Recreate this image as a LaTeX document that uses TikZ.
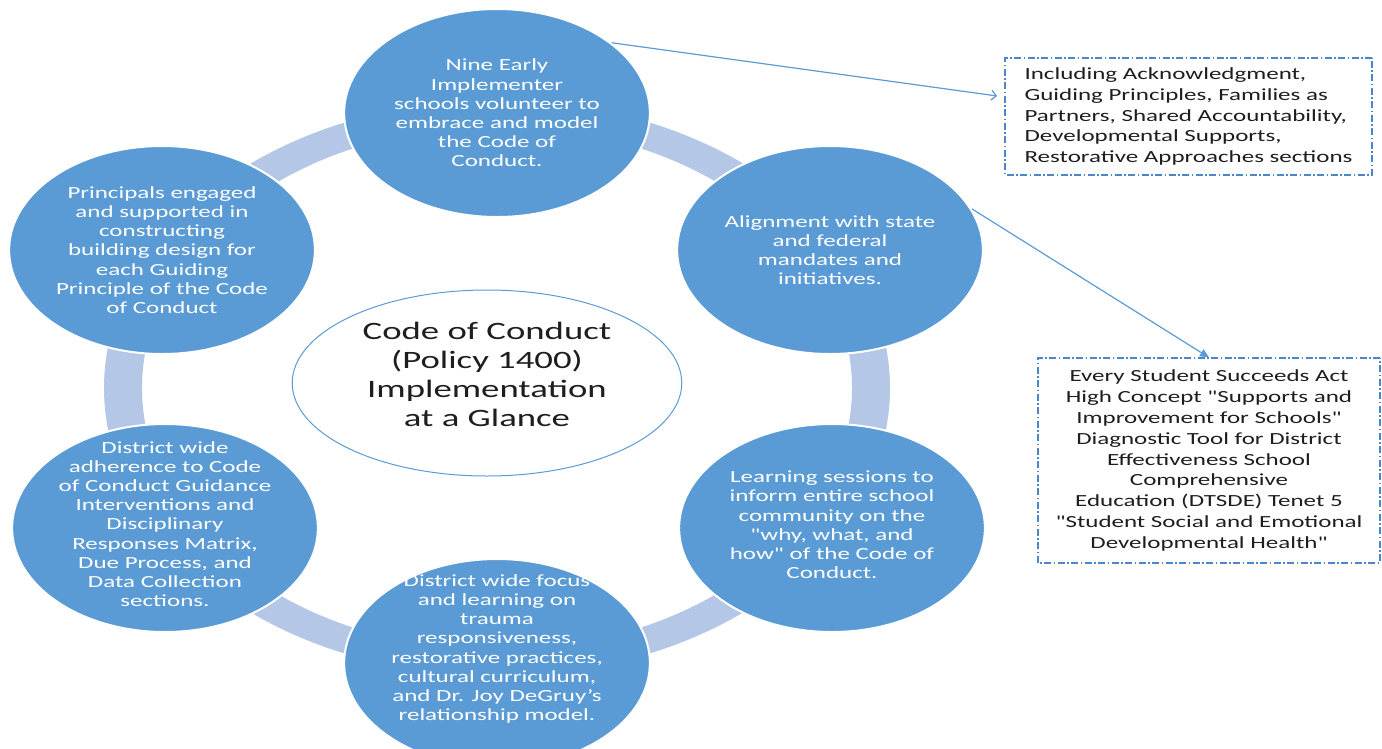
\documentclass[tikz,border=0pt]{standalone}
\usepackage{fontspec}
\setmainfont{Carlito}[Ligatures=TeXOff]
\usetikzlibrary{shapes.geometric,arrows.meta}
\definecolor{cfill}{HTML}{5B9BD5}
\definecolor{ringc}{HTML}{B4C7E7}
\definecolor{linec}{HTML}{5B9BD5}
\definecolor{boxc}{HTML}{4A86C8}
\definecolor{txt}{HTML}{1E1E1E}
\begin{document}
\begin{tikzpicture}[x=1pt,y=-1pt,
  circ/.style={circle, fill=cfill, draw=white, line width=2pt, minimum size=208pt,
    inner sep=0pt, xscale=1.47, transform shape},
  ctext/.style={text=white, align=center, inner sep=0pt, xscale=1.47, transform shape,
    font=\fontsize{17}{19.2}\selectfont},
  hub/.style={ellipse, draw=linec, line width=1pt, fill=white, minimum width=265pt,
    minimum height=186pt, inner sep=0pt, xscale=1.47, transform shape, text=txt,
    align=center, text depth=18pt, font=\fontsize{25}{29}\selectfont},
  notebox/.style={draw=boxc, line width=1.1pt,
    dash pattern=on 7pt off 2.5pt on 1.5pt off 2.5pt, fill=white, inner sep=0pt,
    xscale=1.47, transform shape, text=txt, font=\fontsize{17}{20.8}\selectfont},
  arrline/.style={draw=linec, line width=1.2pt}
]
\useasboundingbox (0,0) rectangle (1382,748);
\clip (0,0) rectangle (1382,748);

% background ring
\fill[ringc, even odd rule] (497,388) ellipse [x radius=393pt, y radius=288pt]
  (497,388) ellipse [x radius=355pt, y radius=262pt];

% cycle circles
\node[circ] (c1) at (497,113) {};
\node[circ] (c2) at (830,250) {};
\node[circ] (c3) at (832,528) {};
\node[circ] (c4) at (497,663) {};
\node[circ] (c5) at (165,528) {};
\node[circ] (c6) at (162,250) {};

\node[ctext] (t1) at (c1.center) {Nine Early\\Implementer\\schools volunteer to\\embrace and model\\the Code of\\Conduct.};
\node[ctext] (t2) at (c2.center) {Alignment with state\\and federal\\mandates and\\initiatives.};
\node[ctext] (t3) at ([yshift=3pt]c3.center) {Learning sessions to\\inform entire school\\community on the\\"why, what, and\\how" of the Code of\\Conduct.};
\node[ctext] (t4) at ([yshift=14pt]c4.center) {District wide focus\\and learning on\\trauma\\responsiveness,\\restorative practices,\\cultural curriculum,\\and Dr. Joy DeGruy’s\\relationship model.};
\node[ctext] (t5) at ([yshift=4pt]c5.center) {District wide\\adherence to Code\\of Conduct Guidance\\Interventions and\\Disciplinary\\Responses Matrix,\\Due Process, and\\Data Collection\\sections.};
\node[ctext] (t6) at (c6.center) {Principals engaged\\and supported in\\constructing\\building design for\\each Guiding\\Principle of the Code\\of Conduct};

% hub
\node[hub] (hub) at (487,383) {Code of Conduct\\(Policy 1400)\\Implementation\\at a Glance};

% note boxes
\node[notebox, minimum width=249.7pt, minimum height=117pt, align=left] (b1) at (1188.5,116.5)
  {Including Acknowledgment,\\Guiding Principles, Families as\\Partners, Shared Accountability,\\Developmental Supports,\\Restorative Approaches sections};
\node[notebox, minimum width=232.7pt, minimum height=205pt, align=center] (b2) at (1209,460.5)
  {Every Student Succeeds Act\\High Concept "Supports and\\Improvement for Schools"\\Diagnostic Tool for District\\Effectiveness School\\Comprehensive\\Education (DTSDE) Tenet 5\\"Student Social and Emotional\\Developmental Health"};

% connectors
\draw[arrline, -{Straight Barb[length=5pt,width=10pt]}] (c1.42) -- ([xshift=-7pt,yshift=20.5pt]b1.west);
\draw[arrline, -{Triangle[length=9pt,width=8pt]}] (c2.23) -- (b2.north);
\end{tikzpicture}
\end{document}
